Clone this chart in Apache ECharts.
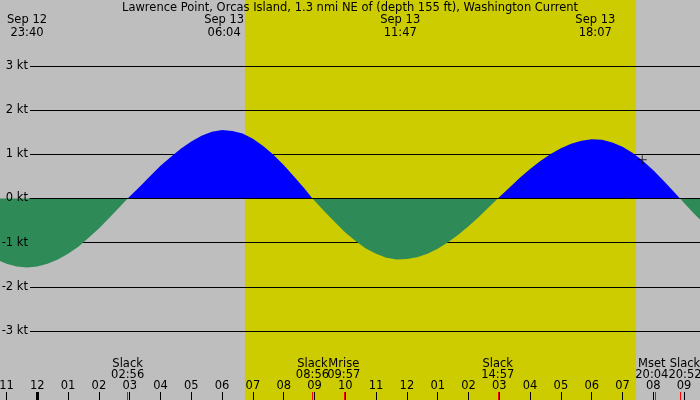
<!DOCTYPE html>
<html>
<head lang="en">
    <meta charset="UTF-8">
    <title>Lawrence Point current</title>
    <script src="https://cdn.jsdelivr.net/npm/echarts@6.0.0/dist/echarts.min.js"></script>
    <style>
        html, body { margin: 0; padding: 0; background: #bebebe; }
        #chart { width: 700px; height: 400px; }
    </style>
</head>
<body>
<div id="chart"></div>
<script>
    // time in hours from midnight Sep 13 (negative = Sep 12), current in knots
    var hours = [-1.333, -1.0, -0.667, -0.333, 0, 0.333, 0.667, 1.0, 1.333, 1.667, 2.0, 2.333, 2.667, 2.933,
        3.333, 3.667, 4.0, 4.333, 4.667, 5.0, 5.333, 5.667, 6.0, 6.333, 6.667, 7.0, 7.333, 7.667, 8.0, 8.333, 8.667, 8.933,
        9.333, 9.667, 10.0, 10.333, 10.667, 11.0, 11.333, 11.667, 12.0, 12.333, 12.667, 13.0, 13.333, 13.667, 14.0, 14.333, 14.667, 14.95,
        15.333, 15.667, 16.0, 16.333, 16.667, 17.0, 17.333, 17.667, 18.0, 18.333, 18.667, 19.0, 19.333, 19.667, 20.0, 20.333, 20.667, 20.867,
        21.0, 21.333, 21.667];
    var knots = [-1.38, -1.48, -1.54, -1.56, -1.54, -1.48, -1.38, -1.25, -1.09, -0.89, -0.68, -0.44, -0.20, 0,
        0.27, 0.51, 0.74, 0.94, 1.13, 1.29, 1.42, 1.51, 1.55, 1.53, 1.47, 1.35, 1.19, 0.99, 0.76, 0.50, 0.23, 0,
        -0.30, -0.54, -0.77, -0.96, -1.13, -1.25, -1.34, -1.38, -1.37, -1.33, -1.25, -1.14, -0.99, -0.82, -0.63, -0.42, -0.19, 0,
        0.25, 0.47, 0.67, 0.85, 1.01, 1.14, 1.24, 1.31, 1.34, 1.33, 1.27, 1.17, 1.03, 0.85, 0.64, 0.40, 0.15, 0,
        -0.10, -0.35, -0.58];

    var viewStart = -1.211, viewEnd = 21.516;
    var sunrise = 6.74, sunset = 19.44;

    var hourTicks = [-1, 0, 1, 2, 3, 4, 5, 6, 7, 8, 9, 10, 11, 12, 13, 14, 15, 16, 17, 18, 19, 20, 21];
    var midnightTicks = [0];

    var peakTimes = [-0.333, 6.067, 11.783, 18.117];
    var peakDates = ['Sep 12', 'Sep 13', 'Sep 13', 'Sep 13'];
    var peakClock = ['23:40', '06:04', '11:47', '18:07'];

    var eventTimes = [2.933, 8.933, 9.95, 14.95, 20.067, 20.867];
    var eventNames = ['Slack', 'Slack', 'Mrise', 'Slack', 'Mset', 'Slack'];
    var eventClock = ['02:56', '08:56', '09:57', '14:57', '20:04', '20:52'];

    var nowPoint = [19.64, 0.88];

    var FONT = 'DejaVu Sans';
    var FS = 11.5;

    var flood = [], ebb = [], full = [];
    for (var i = 0; i < hours.length; i++) {
        flood.push([hours[i], Math.max(knots[i], 0)]);
        ebb.push([hours[i], Math.min(knots[i], 0)]);
        full.push([hours[i], knots[i]]);
    }

    // slack labels on one axis, moon labels on another, so neither hides the other
    var slackTimes = [], moonTimes = [];
    for (var j = 0; j < eventTimes.length; j++) {
        if (eventNames[j] === 'Slack') slackTimes.push(eventTimes[j]);
        else moonTimes.push(eventTimes[j]);
    }

    // labels that collide get nudged apart, like the original does
    var eventStyle = {4: 'left', 5: 'right'};

    function hourLabel(v) {
        var hr = ((Math.round(v) % 24) + 24) % 24;
        var h12 = hr % 12 === 0 ? 12 : hr % 12;
        return (h12 < 10 ? '0' : '') + h12;
    }

    function indexOfTime(arr, v) {
        for (var k = 0; k < arr.length; k++) {
            if (Math.abs(arr[k] - v) < 0.01) return k;
        }
        return -1;
    }

    function eventLabel(v) {
        var k = indexOfTime(eventTimes, v);
        if (k < 0) return '';
        var s = eventStyle[k];
        if (s) return '{' + s + '|' + eventNames[k] + '}\n{' + s + '|' + eventClock[k] + '}';
        return eventNames[k] + '\n' + eventClock[k];
    }

    function eventAxis(values) {
        return {
            type: 'value', gridIndex: 0, position: 'bottom', min: viewStart, max: viewEnd,
            axisLine: {show: false, onZero: false},
            splitLine: {show: false},
            axisTick: {show: true, inside: true, length: 8, customValues: values, lineStyle: {color: '#ff0000', width: 1}},
            axisLabel: {
                inside: true, margin: 19, customValues: values, color: '#000', fontSize: FS, lineHeight: 11,
                fontFamily: FONT, hideOverlap: false, showMinLabel: true, showMaxLabel: true,
                formatter: eventLabel,
                rich: {
                    left: {padding: [0, 7, 0, 0], fontSize: FS, lineHeight: 11, fontFamily: FONT, color: '#000'},
                    right: {padding: [0, 0, 0, 10], fontSize: FS, lineHeight: 11, fontFamily: FONT, color: '#000'}
                }
            },
            z: 10
        };
    }

    var myChart = echarts.init(document.getElementById('chart'));

    var option = {
        backgroundColor: '#bebebe',
        animation: false,
        textStyle: {fontFamily: FONT},
        title: {
            text: 'Lawrence Point, Orcas Island, 1.3 nmi NE of (depth 155 ft), Washington Current',
            left: 'center',
            top: 2,
            padding: 0,
            textStyle: {fontSize: FS, fontWeight: 'normal', color: '#000', fontFamily: FONT, lineHeight: 13}
        },
        grid: [
            {left: 0, right: 0, top: 0, bottom: 0, outerBoundsMode: 'none', containLabel: false},
            {left: 30, right: 0, top: 66, height: 265, outerBoundsMode: 'none', containLabel: false}
        ],
        xAxis: [
            {
                // hour ticks + labels
                type: 'value', gridIndex: 0, position: 'bottom', min: viewStart, max: viewEnd,
                axisLine: {show: false, onZero: false},
                splitLine: {show: false},
                axisTick: {show: true, inside: true, length: 8, customValues: hourTicks, lineStyle: {color: '#000', width: 1}},
                axisLabel: {
                    inside: true, margin: 7, customValues: hourTicks, color: '#000', fontSize: FS, lineHeight: 13,
                    fontFamily: FONT, showMinLabel: true, showMaxLabel: true, hideOverlap: false,
                    formatter: hourLabel
                },
                z: 9
            },
            eventAxis(slackTimes),
            eventAxis(moonTimes),
            {
                // midnight tick, drawn heavier
                type: 'value', gridIndex: 0, position: 'bottom', min: viewStart, max: viewEnd,
                axisLine: {show: false, onZero: false},
                splitLine: {show: false},
                axisTick: {show: true, inside: true, length: 8, customValues: midnightTicks, lineStyle: {color: '#000', width: 3}},
                axisLabel: {show: false},
                z: 9
            },
            {
                // max flood / ebb times along the top
                type: 'value', gridIndex: 0, position: 'top', min: viewStart, max: viewEnd,
                axisLine: {show: false, onZero: false},
                splitLine: {show: false},
                axisTick: {show: false},
                axisLabel: {
                    inside: true, margin: 14, customValues: peakTimes, color: '#000', fontSize: FS, lineHeight: 13,
                    fontFamily: FONT, hideOverlap: false, showMinLabel: true, showMaxLabel: true,
                    formatter: function (v) {
                        var k = indexOfTime(peakTimes, v);
                        return k < 0 ? '' : peakDates[k] + '\n' + peakClock[k];
                    }
                },
                z: 9
            },
            {
                // zero line, sits over the fill
                type: 'value', gridIndex: 1, min: 0, max: 1,
                axisLine: {show: true, onZero: true, lineStyle: {color: '#000', width: 1}},
                axisTick: {show: false},
                axisLabel: {show: false},
                splitLine: {show: false},
                z: 7
            }
        ],
        yAxis: [
            {
                type: 'value', gridIndex: 0, min: -4.562, max: 4.494,
                axisLine: {show: false}, axisTick: {show: false}, axisLabel: {show: false}, splitLine: {show: false}
            },
            {
                type: 'value', gridIndex: 1, position: 'left', min: -3, max: 3, interval: 1,
                axisLine: {show: false}, axisTick: {show: false}, axisLabel: {show: false},
                splitLine: {show: true, lineStyle: {color: '#000', width: 1}},
                z: 5
            },
            {
                type: 'value', gridIndex: 1, position: 'left', offset: 0, min: -3, max: 3, interval: 1,
                axisLine: {show: false, onZero: false}, axisTick: {show: false}, splitLine: {show: false},
                axisLabel: {
                    show: true, margin: 2, color: '#000', fontSize: FS, fontFamily: FONT,
                    formatter: function (v) { return v + ' kt'; }
                },
                z: 9
            }
        ],
        series: [
            {
                // daylight band
                name: 'daylight', type: 'line', xAxisIndex: 0, yAxisIndex: 0, data: full,
                symbol: 'none', lineStyle: {opacity: 0, width: 0}, silent: true, z: 0,
                markArea: {
                    silent: true, z: 0,
                    itemStyle: {color: '#cccc00', opacity: 1},
                    data: [[{xAxis: sunrise}, {xAxis: sunset}]]
                }
            },
            {
                name: 'flood', type: 'line', xAxisIndex: 0, yAxisIndex: 0, data: flood,
                symbol: 'none', lineStyle: {width: 0}, silent: true, z: 6,
                areaStyle: {color: '#0000ff', opacity: 1, origin: 'auto'}
            },
            {
                name: 'ebb', type: 'line', xAxisIndex: 0, yAxisIndex: 0, data: ebb,
                symbol: 'none', lineStyle: {width: 0}, silent: true, z: 6,
                areaStyle: {color: '#2e8b57', opacity: 1, origin: 'auto'}
            },
            {
                name: 'now', type: 'scatter', xAxisIndex: 0, yAxisIndex: 0, data: [nowPoint],
                symbol: 'path://M4,0h1v9h-1zM0,4h9v1h-9z', symbolSize: 9, silent: true, z: 8,
                itemStyle: {color: '#000'}
            }
        ]
    };

    myChart.setOption(option);
</script>
</body>
</html>
